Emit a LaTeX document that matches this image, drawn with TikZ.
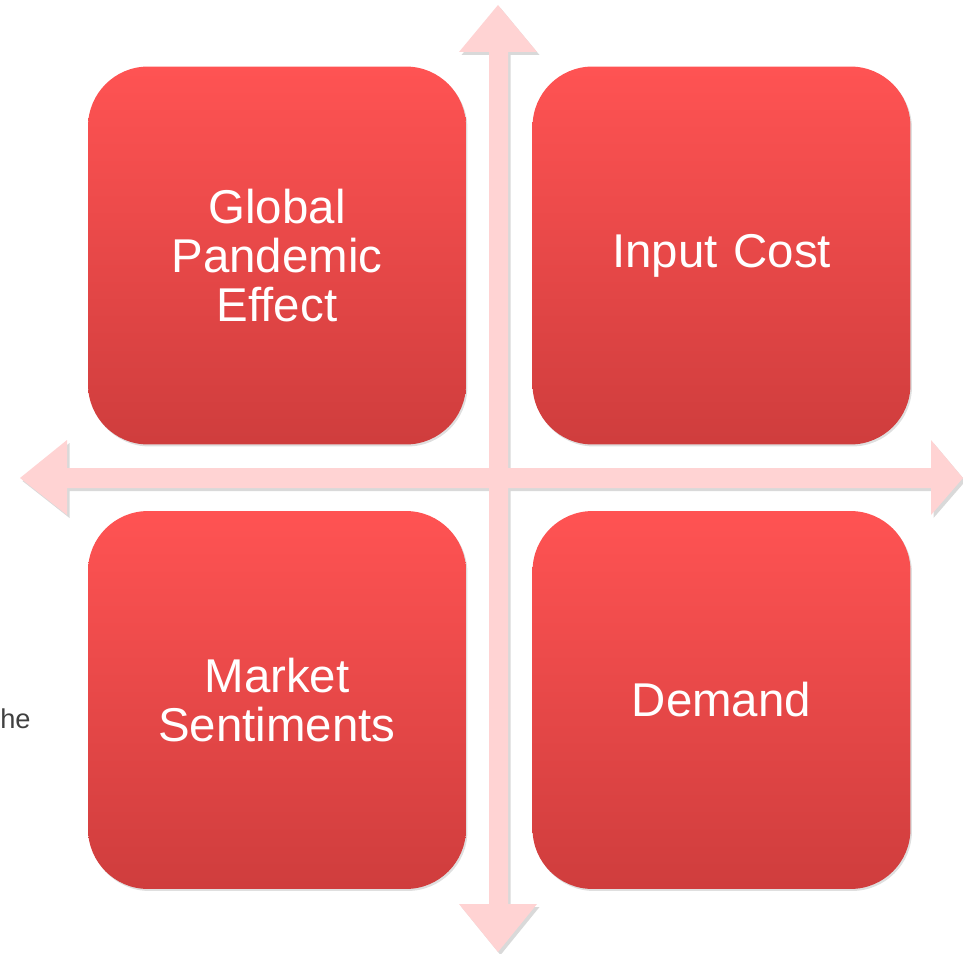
\documentclass[tikz,border=0pt]{standalone}
\usepackage{fontspec}
\setmainfont{Liberation Sans}
\usetikzlibrary{shadows}
\definecolor{boxtop}{HTML}{FF5353}
\definecolor{boxbottom}{HTML}{CF3D3D}
\definecolor{axispink}{HTML}{FFD3D3}
\definecolor{sidegray}{HTML}{404040}
\tikzset{
  factor/.style = {rectangle, rounded corners = 1.2cm, minimum width = 7.56cm,
    minimum height = 7.56cm, top color = boxtop, bottom color = boxbottom,
    text = white, align = center, text width = 7cm,
    font = \fontsize{27}{27.9}\selectfont,
    drop shadow = {shadow xshift = 0.03cm, shadow yshift = -0.04cm, opacity = 0.25}},
  axis/.style = {fill = axispink, draw = none,
    drop shadow = {shadow xshift = 0.05cm, shadow yshift = -0.06cm, opacity = 0.3}}
}
\begin{document}
\begin{tikzpicture}[x = 0.02cm, y = -0.02cm]
    \useasboundingbox (0, 0) rectangle (963, 953);

    % axes, one outline for both arrows
    \path[axis] (498, 5) -- (537, 52) -- (508, 52) -- (508, 468) -- (931, 468)
      -- (931, 440) -- (963, 478) -- (931, 515) -- (931, 488) -- (508, 488)
      -- (508, 904) -- (537, 904) -- (498, 952) -- (459, 904) -- (489, 904)
      -- (489, 488) -- (67, 488) -- (67, 515) -- (20, 478) -- (67, 440)
      -- (67, 468) -- (489, 468) -- (489, 52) -- (459, 52) -- cycle;

    % quadrants
    \node[factor] (pandemic) at (277, 255.5) {Global\\Pandemic\\Effect};
    \node[factor] (cost) at (721.5, 255.5) {Input Cost};
    \node[factor] (sentiment) at (277, 700) {Market\\Sentiments};
    \node[factor] (demand) at (721.5, 700) {Demand};

    \node[anchor = base west, inner sep = 0, text = sidegray,
      font = \fontsize{15.5}{18}\selectfont] (cut) at (0, 728) {he};
\end{tikzpicture}
\end{document}
